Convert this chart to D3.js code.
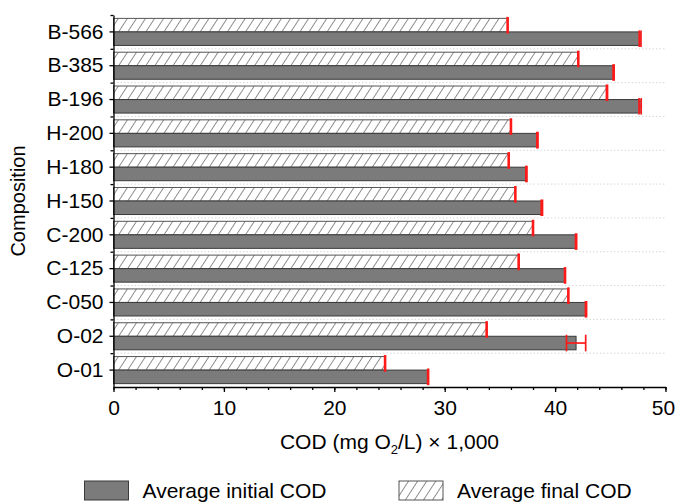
<!DOCTYPE html>
<html>
<head>
<meta charset="utf-8">
<script src="https://cdnjs.cloudflare.com/ajax/libs/d3/7.8.5/d3.min.js"></script>
<style>
  html, body { margin: 0; padding: 0; background: #fff; }
  svg { display: block; font-family: "Liberation Sans", Arial, sans-serif; }
  .axis path, .axis line { stroke: #000; stroke-width: 1.3; }
  .axis text { font-size: 21px; fill: #000; }
  .grid { stroke: #d8d8d8; stroke-width: 1; stroke-dasharray: 1.5 2; }
  .bar.initial { fill: #7b7b7b; stroke: #3a3a3a; stroke-width: 1; }
  .bar.final { fill: url(#hatch); stroke: #555; stroke-width: 1; }
  .err { stroke: #ff1a1a; stroke-width: 1.7; }
</style>
</head>
<body>
<svg id="chart" width="676" height="502"></svg>
<script>
// data (COD, mg O2/L x 1000)
const categories = ['B-566', 'B-385', 'B-196', 'H-200', 'H-180', 'H-150', 'C-200', 'C-125', 'C-050', 'O-02', 'O-01'];
const initialCOD = [47.7, 45.3, 47.7, 38.4, 37.4, 38.8, 41.9, 40.9, 42.8, 41.9, 28.5];
const initialErr = [0.08, 0.05, 0.1, 0.05, 0.05, 0.06, 0.05, 0.04, 0.05, 0.87, 0.04];
const finalCOD = [35.7, 42.1, 44.7, 36.0, 35.8, 36.4, 38.0, 36.7, 41.2, 33.8, 24.6];
const finalErr = [0.04, 0.04, 0.05, 0.04, 0.04, 0.04, 0.04, 0.04, 0.04, 0.04, 0.04];
const xTicks = [0, 10, 20, 30, 40, 50];
const legendLabels = ['Average initial COD', 'Average final COD'];

const MARGIN = { top: 15, left: 113.5, right: 10.5, bottom: 115 };
const W = 676, H = 502;

const $svg = d3.select('#chart');

const x = d3.scaleLinear().domain([0, 50]).range([MARGIN.left, W - MARGIN.right]);
const y = d3.scaleBand().domain(categories).range([MARGIN.top, H - MARGIN.bottom])
  .paddingInner(0.2).paddingOuter(0.1);
const step = y.step();
const barH = y.bandwidth() / 2;

// hatch pattern for the final COD bars
const defs = $svg.append('defs');
const pat = defs.append('pattern')
  .attr('id', 'hatch')
  .attr('patternUnits', 'userSpaceOnUse')
  .attr('width', 7.6).attr('height', 10)
  .attr('patternTransform', 'rotate(33)');
pat.append('rect').attr('width', 7.6).attr('height', 10).attr('fill', '#fff');
pat.append('line').attr('x1', 0).attr('x2', 0).attr('y1', 0).attr('y2', 10)
  .attr('stroke', '#444').attr('stroke-width', 1.2);

// dotted separators between categories
const bounds = categories.slice(1).map(c => y(c) - step * y.paddingInner() / 2);
$svg.append('g').selectAll('line').data(bounds).enter().append('line')
  .attr('class', 'grid')
  .attr('x1', x(0)).attr('x2', x(50))
  .attr('y1', d => d).attr('y2', d => d);

const rows = categories.map((c, i) => ({
  name: c, initial: initialCOD[i], iErr: initialErr[i], final: finalCOD[i], fErr: finalErr[i]
}));

const row = $svg.append('g').selectAll('.row').data(rows).enter().append('g')
  .attr('class', 'row')
  .attr('transform', d => `translate(0,${y(d.name)})`);

row.append('rect').attr('class', 'bar final')
  .attr('x', x(0)).attr('y', 0)
  .attr('width', d => x(d.final) - x(0)).attr('height', barH);

row.append('rect').attr('class', 'bar initial')
  .attr('x', x(0)).attr('y', barH)
  .attr('width', d => x(d.initial) - x(0)).attr('height', barH);

function errorBar(sel, key, errKey, y0) {
  const cap = barH + 3;
  const g = sel.append('g').attr('class', 'err-g');
  g.append('line').attr('class', 'err')
    .attr('x1', d => x(d[key] - d[errKey])).attr('x2', d => x(d[key] + d[errKey]))
    .attr('y1', y0 + barH / 2).attr('y2', y0 + barH / 2);
  g.append('line').attr('class', 'err')
    .attr('x1', d => x(d[key] - d[errKey])).attr('x2', d => x(d[key] - d[errKey]))
    .attr('y1', y0 + barH / 2 - cap / 2).attr('y2', y0 + barH / 2 + cap / 2);
  g.append('line').attr('class', 'err')
    .attr('x1', d => x(d[key] + d[errKey])).attr('x2', d => x(d[key] + d[errKey]))
    .attr('y1', y0 + barH / 2 - cap / 2).attr('y2', y0 + barH / 2 + cap / 2);
}
errorBar(row, 'final', 'fErr', 0);
errorBar(row, 'initial', 'iErr', barH);

// x axis with minor ticks
const xAxisY = H - MARGIN.bottom;
$svg.append('g').attr('class', 'axis minor')
  .attr('transform', `translate(0,${xAxisY})`)
  .call(d3.axisBottom(x).tickValues(d3.range(0, 51, 2)).tickSize(3).tickFormat(''))
  .call(g => g.select('.domain').remove());
$svg.append('g').attr('class', 'axis x')
  .attr('transform', `translate(0,${xAxisY})`)
  .call(d3.axisBottom(x).tickValues(xTicks).tickSize(5).tickSizeOuter(0).tickPadding(8))
  // last label sits right on the page edge, pull it in a touch
  .call(g => g.selectAll('.tick text').filter(d => d === 50).attr('dx', -2.5));

// y axis: labels at category centres, minor ticks at boundaries
$svg.append('g').attr('class', 'axis minor')
  .attr('transform', `translate(${x(0)},0)`)
  .call(d3.axisLeft(d3.scaleIdentity()).tickValues([MARGIN.top].concat(bounds)).tickSize(3).tickFormat(''))
  .call(g => g.select('.domain').remove());
$svg.append('g').attr('class', 'axis y')
  .attr('transform', `translate(${x(0)},0)`)
  .call(d3.axisLeft(y).tickSize(4).tickSizeOuter(0).tickPadding(6))
  .call(g => g.selectAll('.tick').attr('transform', d => `translate(0,${y(d) + barH})`));

// axis titles
$svg.append('text')
  .attr('x', 18).attr('y', (MARGIN.top + xAxisY) / 2)
  .attr('transform', `rotate(-90,18,${(MARGIN.top + xAxisY) / 2})`)
  .attr('text-anchor', 'middle').attr('dy', '0.35em')
  .style('font-size', '20px')
  .text('Composition');

const title = $svg.append('text')
  .attr('x', (x(0) + x(50)) / 2).attr('y', 449)
  .attr('text-anchor', 'middle')
  .style('font-size', '21px');
title.append('tspan').text('COD (mg O');
title.append('tspan').attr('dy', 5).style('font-size', '13px').text('2');
title.append('tspan').attr('dy', -5).text('/L) × 1,000');

// legend
const legend = $svg.append('g').attr('class', 'legend');
const legendX = [84.5, 399];
legendLabels.forEach((label, i) => {
  const g = legend.append('g').attr('transform', `translate(${legendX[i]},481)`);
  g.append('rect').attr('class', i === 0 ? 'bar initial' : 'bar final')
    .attr('width', 44).attr('height', 19);
  g.append('text').attr('x', 58).attr('y', 10).attr('dy', '0.35em')
    .style('font-size', '21px').text(label);
});
</script>
</body>
</html>
